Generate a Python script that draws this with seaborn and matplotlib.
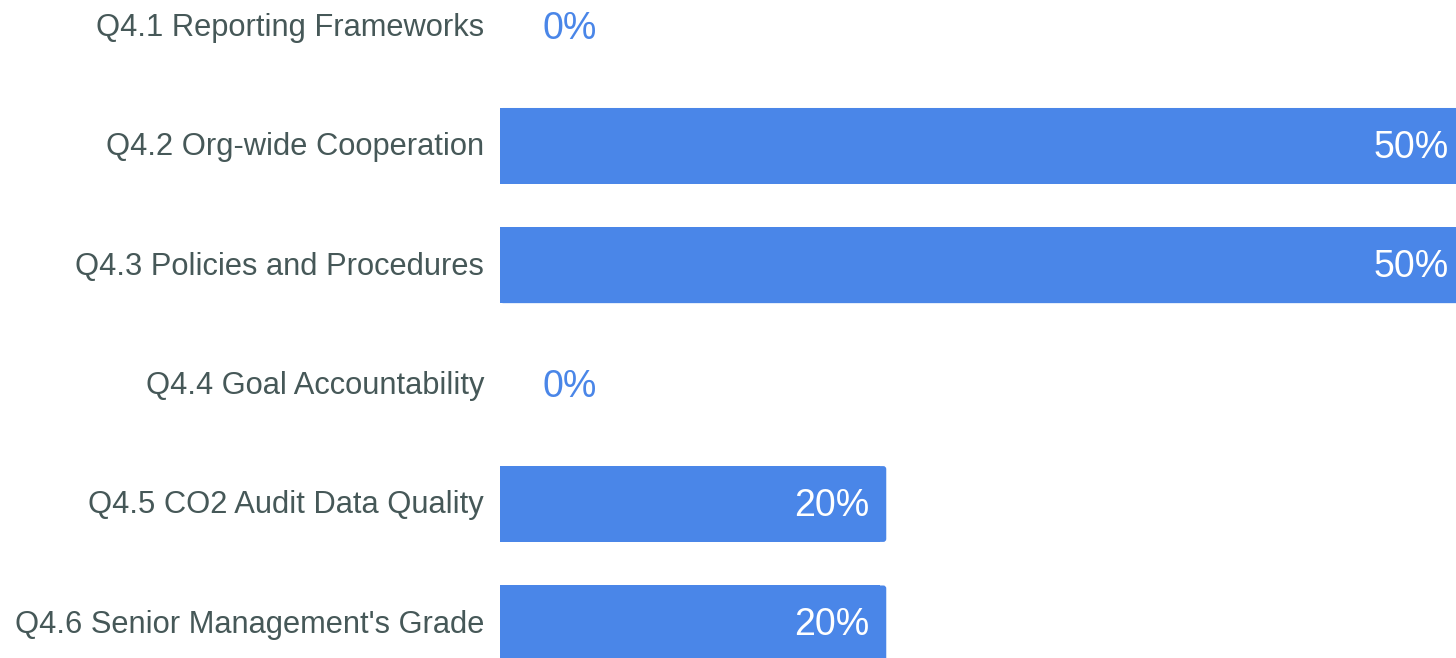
import matplotlib
matplotlib.use("Agg")
import matplotlib.pyplot as plt
import matplotlib.transforms as mtransforms
from matplotlib.patches import FancyBboxPatch
import seaborn as sns
import pandas as pd

questions = [
    "Q4.1 Reporting Frameworks",
    "Q4.2 Org-wide Cooperation",
    "Q4.3 Policies and Procedures",
    "Q4.4 Goal Accountability",
    "Q4.5 CO2 Audit Data Quality",
    "Q4.6 Senior Management's Grade",
]
shares = [0, 50, 50, 0, 20, 20]

BAR = "#4a86e8"
LABEL = "#465858"

sns.set_theme(style="white")
plt.rcParams["font.family"] = ["Liberation Sans", "DejaVu Sans"]

df = pd.DataFrame({"question": questions, "share": shares})

fig = plt.figure(figsize=(14.56, 6.58), dpi=100)
ax = fig.add_axes([500 / 1456, 0, 956 / 1456, 1])

sns.barplot(data=df, y="question", x="share", color=BAR, saturation=1,
            width=0.635, ax=ax, orient="h")

ax.set_xlim(0, 49.5)
ax.set_ylim(5.29, -0.222)

# rounded right-hand corners on each bar
rx = 0.155
ry = 0.0251
for p in list(ax.patches):
    w = p.get_width()
    if w <= 0:
        continue
    x0, y0, h = p.get_x(), p.get_y(), p.get_height()
    p.set_width(max(w - 2 * rx, 0))
    p.set_edgecolor("none")
    ax.add_patch(FancyBboxPatch((x0, y0), w, h,
                                boxstyle=f"round,pad=0,rounding_size={rx}",
                                mutation_aspect=ry / rx,
                                facecolor=BAR, edgecolor="none",
                                clip_on=True))

# value labels nudged slightly below the bar centre
down = mtransforms.ScaledTranslation(0, -1.5 / 72, fig.dpi_scale_trans)
for i, v in enumerate(shares):
    if v > 0:
        ax.text(v - 0.88, i, f"{v}%", ha="right", va="center",
                color="white", fontsize=27, transform=ax.transData + down)
    else:
        ax.text(2.2, i, f"{v}%", ha="left", va="center",
                color=BAR, fontsize=27, transform=ax.transData + down)

ax.set_xlabel("")
ax.set_ylabel("")
ax.set_xticks([])
ax.tick_params(axis="y", length=0, pad=11.5, labelsize=22.2, labelcolor=LABEL)
up = mtransforms.ScaledTranslation(0, 1.5 / 72, fig.dpi_scale_trans)
for lbl in ax.get_yticklabels():
    lbl.set_transform(lbl.get_transform() + up)
for s in ax.spines.values():
    s.set_visible(False)

fig.savefig("out.png", dpi=100)
